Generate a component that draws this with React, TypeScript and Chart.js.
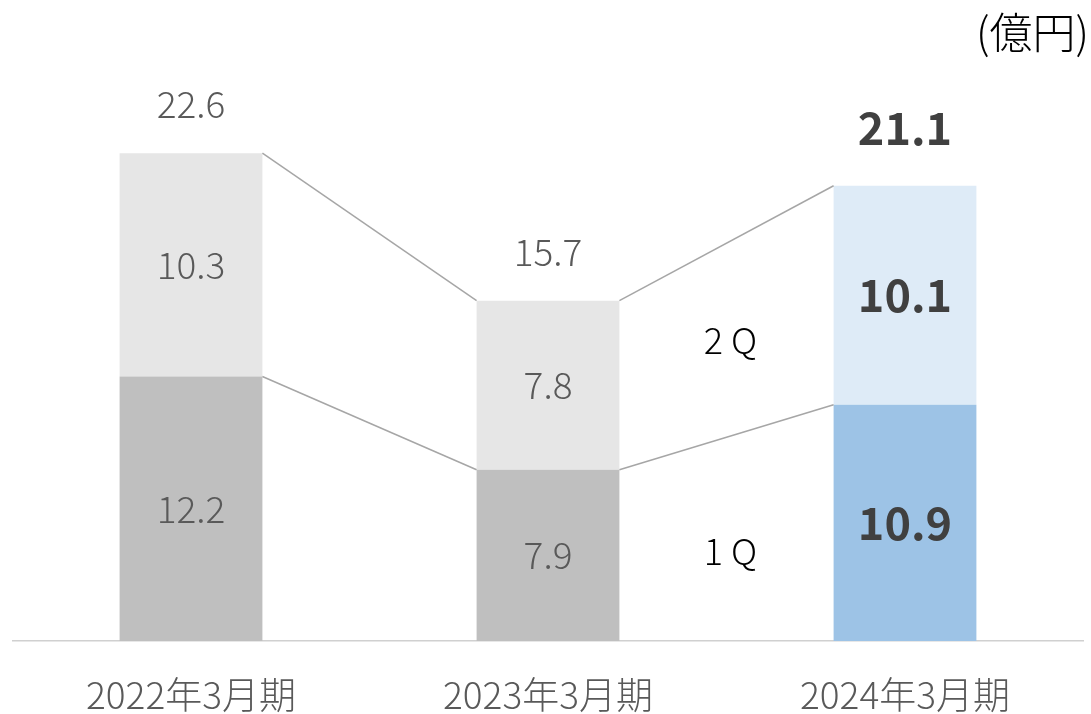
import React, { useEffect, useRef } from "react";
import { Chart, registerables } from "chart.js";

Chart.register(...registerables);

const categories = ["2022年3月期", "2023年3月期", "2024年3月期"];
const q1Values = [12.2, 7.9, 10.9];
const q2Values = [10.3, 7.8, 10.1];
const totalLabels = ["22.6", "15.7", "21.1"];
const q1Colors = ["#BFBFBF", "#BFBFBF", "#9DC3E6"];
const q2Colors = ["#E6E6E6", "#E6E6E6", "#DEEBF7"];
const seriesNames = ["1 Q", "2 Q"];
const unitLabel = "(億円)";

const FONT = '"Noto Sans CJK JP", "Noto Sans", sans-serif';

const overlayPlugin = {
  id: "overlay",
  afterDatasetsDraw(chart: any) {
    const ctx = chart.ctx;
    const x = chart.scales.x;
    const y = chart.scales.y;
    const m0 = chart.getDatasetMeta(0).data;
    const m1 = chart.getDatasetMeta(1).data;
    ctx.save();
    ctx.strokeStyle = "#A6A6A6";
    ctx.lineWidth = 1.5;
    for (let i = 0; i < categories.length - 1; i++) {
      const a0 = m0[i], b0 = m0[i + 1];
      const a1 = m1[i], b1 = m1[i + 1];
      const ar = a0.x + a0.width / 2;
      const bl = b0.x - b0.width / 2;
      ctx.beginPath();
      ctx.moveTo(ar, a0.y);
      ctx.lineTo(bl, b0.y);
      ctx.stroke();
      ctx.beginPath();
      ctx.moveTo(ar, a1.y);
      ctx.lineTo(bl, b1.y);
      ctx.stroke();
    }
    ctx.textAlign = "center";
    ctx.textBaseline = "middle";
    for (let i = 0; i < categories.length; i++) {
      const last = i === categories.length - 1;
      const bar0 = m0[i];
      const bar1 = m1[i];
      const base = y.getPixelForValue(0);
      if (last) {
        ctx.fillStyle = "#404040";
        ctx.font = `bold 45px ${FONT}`;
      } else {
        ctx.fillStyle = "#595959";
        ctx.font = `300 37px ${FONT}`;
      }
      ctx.fillText(q1Values[i].toFixed(1), bar0.x, (base + bar0.y) / 2);
      ctx.fillText(q2Values[i].toFixed(1), bar1.x, (bar0.y + bar1.y) / 2);
      ctx.fillText(totalLabels[i], bar1.x, bar1.y - (last ? 58 : 49));
    }
    const mx = (x.getPixelForValue(1) + x.getPixelForValue(2)) / 2 + 4;
    ctx.fillStyle = "#000000";
    ctx.font = `300 36px ${FONT}`;
    ctx.fillText(seriesNames[1], mx, 340);
    ctx.fillText(seriesNames[0], mx, 551);
    ctx.textAlign = "right";
    ctx.font = `300 43px ${FONT}`;
    ctx.fillText(unitLabel, 1089, 33);
    ctx.restore();
  },
};

export default function App() {
  const ref = useRef<HTMLCanvasElement>(null);
  useEffect(() => {
    if (!ref.current) return;
    const chart = new Chart(ref.current, {
      type: "bar",
      data: {
        labels: categories,
        datasets: [
          { label: seriesNames[0], data: q1Values, backgroundColor: q1Colors },
          { label: seriesNames[1], data: q2Values, backgroundColor: q2Colors },
        ],
      },
      options: {
        animation: false,
        responsive: false,
        maintainAspectRatio: false,
        layout: { padding: { top: 34, left: 12.5, right: 7.5, bottom: 0 } },
        plugins: { legend: { display: false }, tooltip: { enabled: false } },
        datasets: { bar: { barPercentage: 0.4, categoryPercentage: 1 } } as any,
        scales: {
          x: {
            stacked: true,
            grid: { display: false, drawTicks: false },
            border: { display: true, color: "#D0D0D0", width: 1.5 },
            ticks: { color: "#595959", font: { family: FONT, size: 37, weight: "300" as any }, padding: 32 },
            afterFit: (scale: any) => {
              scale.height = 73;
            },
          },
          y: { stacked: true, display: false, min: 0, max: 28 },
        },
      },
      plugins: [overlayPlugin],
    });
    return () => chart.destroy();
  }, []);
  return (
    <div style={{ position: "fixed", left: 0, top: 0, width: 1091, height: 714, background: "#fff" }}>
      <canvas ref={ref} width={1091} height={714} style={{ width: 1091, height: 714 }} />
    </div>
  );
}
